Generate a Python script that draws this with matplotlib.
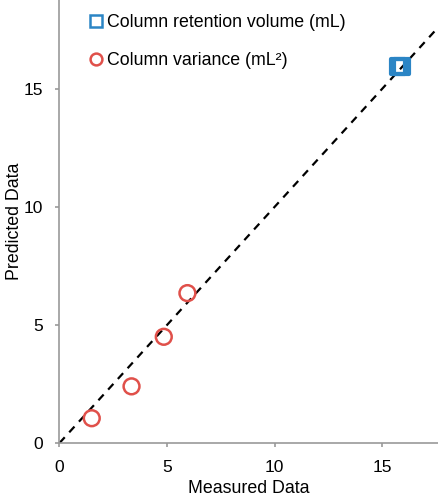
import matplotlib
matplotlib.use("Agg")
import matplotlib.pyplot as plt
from matplotlib.lines import Line2D

plt.rcParams['font.family'] = ['Liberation Sans', 'DejaVu Sans']

# Data
ret_measured = [15.75, 15.9]
ret_predicted = [15.95, 15.95]
var_measured = [1.5, 3.35, 4.85, 5.95]
var_predicted = [1.05, 2.4, 4.5, 6.35]
line_range = [0, 18]
xticks = [0, 5, 10, 15]
yticks = [0, 5, 10, 15]

fig = plt.figure(figsize=(4.39, 5.0), dpi=100)
ax = fig.add_axes([59.5/439, 57/500, 1 - 59.5/439, 1 - 57/500])

ax.plot(line_range, line_range, linestyle=(0, (3.5, 3)), color='black', lw=1.6, zorder=1)
ax.scatter(ret_measured, ret_predicted, marker='s', s=110, facecolors='none',
           edgecolors='#2B85C5', linewidths=3, zorder=3)
ax.scatter(var_measured, var_predicted, marker='o', s=130, facecolors='none',
           edgecolors='#E0504A', linewidths=1.8, zorder=3)

ax.set_xlim(0, 17.65)
ax.set_ylim(0, 18.77)
ax.set_xticks(xticks)
ax.set_yticks(yticks)
for s in ['top', 'right']:
    ax.spines[s].set_visible(False)
for s in ['left', 'bottom']:
    ax.spines[s].set_color('#999999')
    ax.spines[s].set_linewidth(1.2)
ax.tick_params(direction='out', length=3, width=1.2, color='#999999', labelsize=12.5, pad=9)
ax.set_xlabel('Measured Data', fontsize=12.8, labelpad=4)
ax.set_ylabel('Predicted Data', fontsize=12.8)
ax.yaxis.set_label_coords(-0.095, 0.5)

handles = [Line2D([], [], marker='s', linestyle='none', markerfacecolor='none',
                  markeredgecolor='#2B85C5', markeredgewidth=1.8, markersize=8.5),
           Line2D([], [], marker='o', linestyle='none', markerfacecolor='none',
                  markeredgecolor='#E0504A', markeredgewidth=1.8, markersize=8.5)]
ax.legend(handles, ['Column retention volume (mL)', 'Column variance (mL²)'],
          loc='upper left', bbox_to_anchor=(0.03, 1.005), frameon=False, fontsize=12.8,
          handletextpad=0.15, handlelength=1.0, labelspacing=1.2)

fig.savefig('out.png', dpi=100)
